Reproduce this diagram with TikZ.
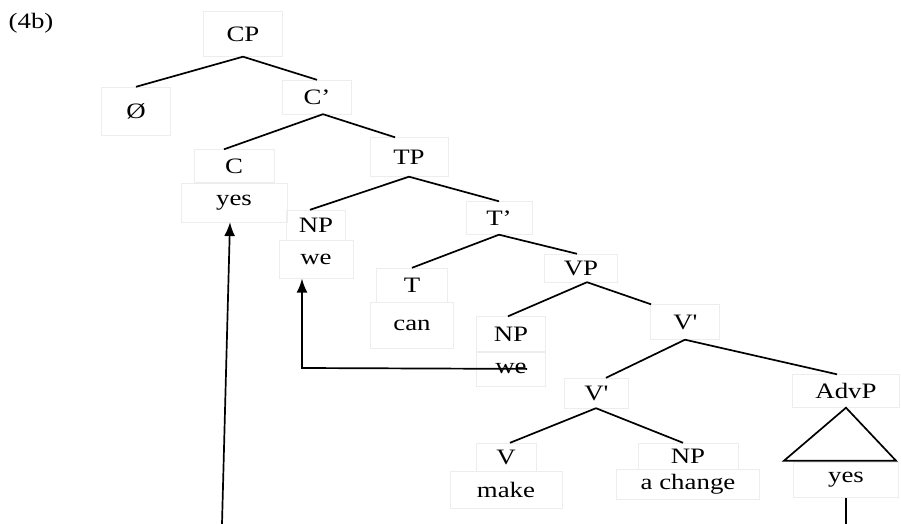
\documentclass[tikz,border=0pt]{standalone}
\usepackage{fontspec}
\setmainfont{Liberation Serif}[FakeStretch=1.22]
\usetikzlibrary{positioning}
\usetikzlibrary{arrows.meta}
\tikzstyle{tbox} = [draw=black!7, font=\fontsize{22}{25}\selectfont, inner sep=0pt, minimum height=34pt]
\tikzstyle{branch} = [line width=1.7pt]
\tikzstyle{move} = [line width=1.7pt, -{Latex[length=14pt,width=11pt]}]

\begin{document}
\begin{tikzpicture}[x=1pt, y=1pt]

				\useasboundingbox (0,0) rectangle (901,-524);

				% Example number
				\node[font=\fontsize{22}{25}\selectfont] (ex) at (31,-23) {(4b)};

				% CP and C'
				\node[tbox, minimum width=79pt, minimum height=45pt] (CP) at (243,-34) {CP};
				\node[tbox, minimum width=69pt, minimum height=48pt] (O) at (136,-111) {Ø};
				\node[tbox, minimum width=69pt] (Cbar) at (317,-97) {C’};
				\node[tbox, minimum width=80pt, minimum height=33pt] (C) at (234,-166) {C};
				\node[tbox, minimum width=106pt, minimum height=39pt, below = 0pt of C] (Cyes) {yes};

				% TP and T'
				\node[tbox, minimum width=78pt, minimum height=39pt] (TP) at (409,-157) {TP};
				\node[tbox, minimum width=59pt, minimum height=30pt] (NP) at (316,-225) {NP};
				\node[tbox, minimum width=74pt, minimum height=38pt, below = 0pt of NP] (we) {we};
				\node[tbox, minimum width=66pt, minimum height=33pt] (Tbar) at (499,-218) {T’};
				\node[tbox, minimum width=71pt] (T) at (412,-285) {T};
				\node[tbox, minimum width=83pt, minimum height=46pt, below = 0pt of T] (can) {can};

				% VP and V'
				\node[tbox, minimum width=73pt, minimum height=28pt] (VP) at (581,-268) {VP};
				\node[tbox, minimum width=69pt, minimum height=35pt] (NPt) at (511,-334) {NP};
				\node[tbox, minimum width=69pt, below = 0pt of NPt] (wet) {we};
				\node[tbox, minimum width=69pt, minimum height=35pt] (Vbar) at (685,-322) {V\textquotesingle};
				\node[tbox, minimum width=64pt, minimum height=30pt] (Vbarl) at (596,-393) {V\textquotesingle};
				\node[tbox, minimum width=107pt, minimum height=33pt] (AdvP) at (846,-391) {AdvP};

				% Lowest level
				\node[tbox, minimum width=60pt, minimum height=28pt] (V) at (506,-457) {V};
				\node[tbox, minimum width=112pt, minimum height=37pt, below = 0pt of V] (make) {make};
				\node[tbox, minimum width=100pt, minimum height=26pt] (NPc) at (688,-456) {NP};
				\node[tbox, minimum width=143pt, minimum height=30pt, below = 0pt of NPc] (change) {a change};
				\node[tbox, minimum width=105pt, minimum height=35pt] (yes) at (846,-480) {yes};

				% Branches
				\draw[branch] (CP.south) -- (O.north);
				\draw[branch] (CP.south) -- (Cbar.north);
				\draw[branch] ([xshift=6pt]Cbar.south) -- ([xshift=-10pt]C.north);
				\draw[branch] ([xshift=6pt]Cbar.south) -- ([xshift=-14pt]TP.north);
				\draw[branch] (TP.south) -- ([xshift=-6pt]NP.north);
				\draw[branch] (TP.south) -- (Tbar.north);
				\draw[branch] (Tbar.south) -- (T.north);
				\draw[branch] (Tbar.south) -- ([xshift=-4pt]VP.north);
				\draw[branch] ([xshift=6pt]VP.south) -- ([xshift=-3pt]NPt.north);
				\draw[branch] ([xshift=6pt]VP.south) -- ([xshift=-34pt]Vbar.north);
				\draw[branch] (Vbar.south) -- ([xshift=10pt]Vbarl.north);
				\draw[branch] (Vbar.south) -- ([xshift=-9pt]AdvP.north);
				\draw[branch] (Vbarl.south) -- ([xshift=4pt]V.north);
				\draw[branch] (Vbarl.south) -- ([xshift=-5pt]NPc.north);
				\draw[branch] (AdvP.south) -- ++(-62,-53) -- ++(112,0) -- cycle;

				% Movement
				\coordinate (foot) at (222,-524);
				\coordinate (yesfoot) at (846,-524);
				\coordinate (turn) at (302,-368);
				\draw[move] (foot) -- ([xshift=-4pt]Cyes.south);
				\draw[branch] (yes.south) -- (yesfoot);
				\draw[move] ([xshift=16pt]wet.center) -- (turn) -- (we.south -| turn);

\end{tikzpicture}
\end{document}
